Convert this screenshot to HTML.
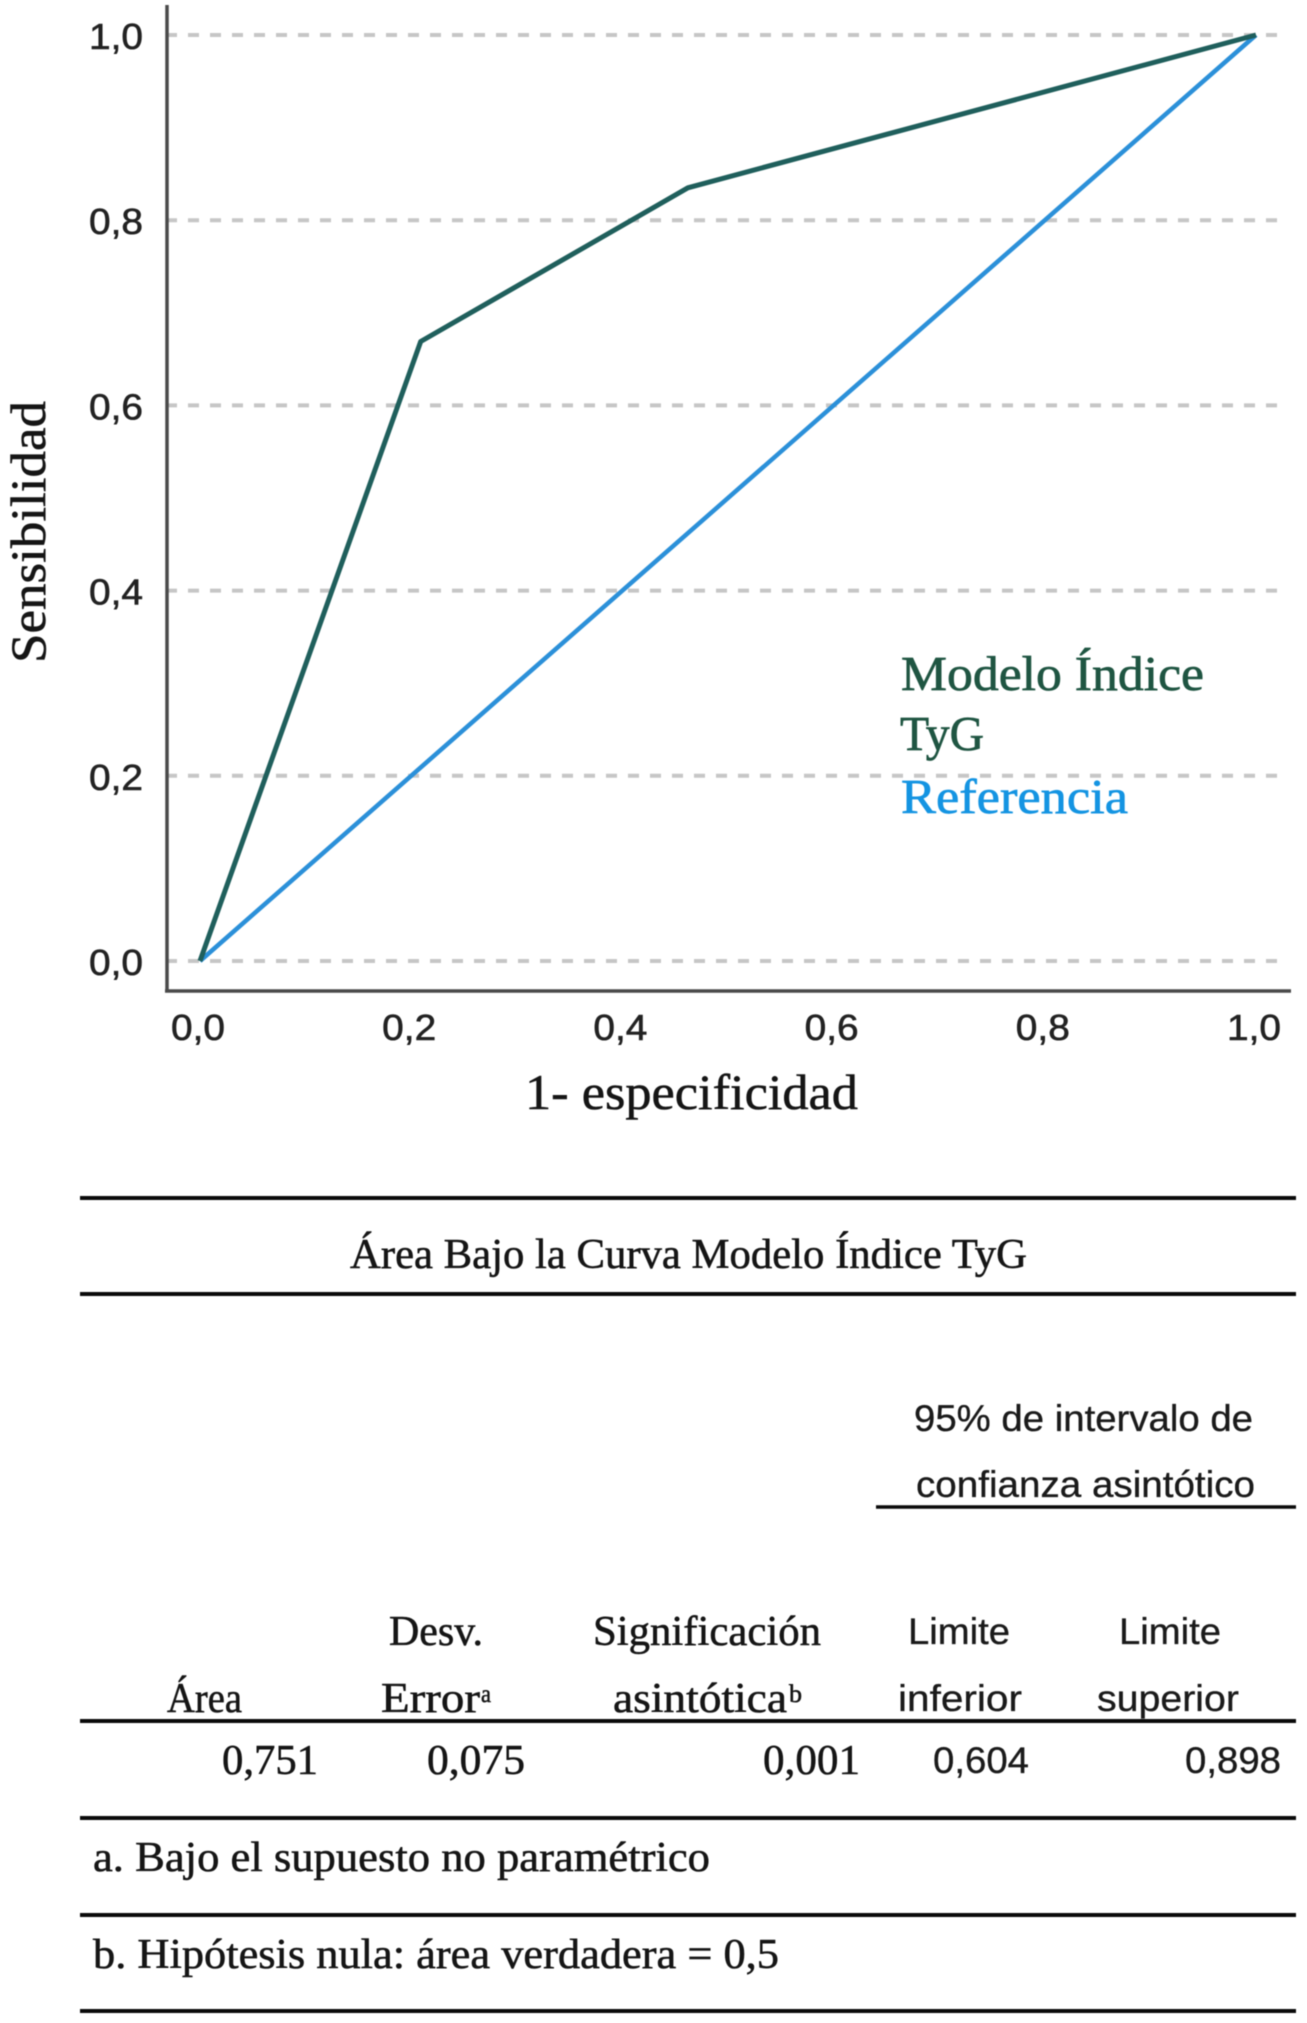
<!DOCTYPE html>
<html lang="es">
<head>
<meta charset="utf-8">
<title>Curva ROC Modelo Índice TyG</title>
<style>
html,body{margin:0;padding:0;background:#fff;width:1307px;height:2023px;overflow:hidden}
svg{display:block;filter:blur(.6px)}
.serif{font-family:"Liberation Serif",serif;fill:#151515;stroke:#151515;stroke-width:.55px}
.sans{font-family:"Liberation Sans",sans-serif;fill:#1a1a1a;stroke:#1a1a1a;stroke-width:.35px}
.tick{font-family:"Liberation Sans",sans-serif;font-size:36px;fill:#222;stroke:#222;stroke-width:.6px}
.t{font-size:42px}
.s{font-size:37px}
.ax{font-size:50px}
.rule{stroke:#0a0a0a;stroke-width:4}
.lg-model{font-family:"Liberation Serif",serif;font-size:49px;fill:#1f5542;stroke:#1f5542;stroke-width:.7px}
.lg-ref{font-family:"Liberation Serif",serif;font-size:49px;fill:#1494e2;stroke:#1494e2;stroke-width:.7px}
</style>
</head>
<body>
<svg id="root" width="1307" height="2023" viewBox="0 0 1307 2023" xmlns="http://www.w3.org/2000/svg">
  <g id="chart"></g>
  <line x1="167" y1="5" x2="167" y2="992" stroke="#4a4a4a" stroke-width="3.5"/>
  <line x1="165" y1="991" x2="1291" y2="991" stroke="#4a4a4a" stroke-width="3.5"/>
  <text class="serif ax" x="525" y="1109" textLength="333" lengthAdjust="spacingAndGlyphs">1- especificidad</text>
  <text class="serif ax" transform="translate(45,663) rotate(-90)" textLength="262" lengthAdjust="spacingAndGlyphs">Sensibilidad</text>
  <text class="lg-model" x="901" y="690" textLength="303" lengthAdjust="spacingAndGlyphs">Modelo Índice</text>
  <text class="lg-model" x="900" y="750" textLength="84" lengthAdjust="spacingAndGlyphs">TyG</text>
  <text class="lg-ref" x="901" y="813" textLength="227" lengthAdjust="spacingAndGlyphs">Referencia</text>

  <g>
    <line class="rule" x1="80" y1="1198" x2="1296" y2="1198"/>
    <line class="rule" x1="80" y1="1294" x2="1296" y2="1294"/>
    <line class="rule" style="stroke-width:3.5" x1="876" y1="1507" x2="1296" y2="1507"/>
    <line class="rule" x1="80" y1="1721" x2="1296" y2="1721"/>
    <line class="rule" x1="80" y1="1818" x2="1296" y2="1818"/>
    <line class="rule" x1="80" y1="1915" x2="1296" y2="1915"/>
    <line class="rule" x1="80" y1="2011" x2="1296" y2="2011"/>

    <text class="serif t" x="350" y="1268" textLength="677" lengthAdjust="spacingAndGlyphs">Área Bajo la Curva Modelo Índice TyG</text>
    <text class="sans s" x="914" y="1431" textLength="339" lengthAdjust="spacingAndGlyphs">95% de intervalo de</text>
    <text class="sans s" x="916" y="1497" textLength="339" lengthAdjust="spacingAndGlyphs">confianza asintótico</text>

    <text class="serif t" x="389" y="1645" textLength="94" lengthAdjust="spacingAndGlyphs">Desv.</text>
    <text class="serif t" x="593" y="1645" textLength="228" lengthAdjust="spacingAndGlyphs">Significación</text>
    <text class="sans s" x="908" y="1644" textLength="102" lengthAdjust="spacingAndGlyphs">Limite</text>
    <text class="sans s" x="1119" y="1644" textLength="102" lengthAdjust="spacingAndGlyphs">Limite</text>

    <text class="serif t" x="167" y="1712" textLength="75" lengthAdjust="spacingAndGlyphs">Área</text>
    <text class="serif t" x="381" y="1712" textLength="99" lengthAdjust="spacingAndGlyphs">Error</text>
    <text class="serif" font-size="25" x="481" y="1702" textLength="10" lengthAdjust="spacingAndGlyphs">a</text>
    <text class="serif t" x="613" y="1712" textLength="174" lengthAdjust="spacingAndGlyphs">asintótica</text>
    <text class="serif" font-size="25" x="789" y="1702" textLength="13" lengthAdjust="spacingAndGlyphs">b</text>
    <text class="sans s" x="898" y="1711" textLength="124" lengthAdjust="spacingAndGlyphs">inferior</text>
    <text class="sans s" x="1097" y="1711" textLength="142" lengthAdjust="spacingAndGlyphs">superior</text>

    <text class="serif t" x="222" y="1774" textLength="96" lengthAdjust="spacingAndGlyphs">0,751</text>
    <text class="serif t" x="427" y="1774" textLength="98" lengthAdjust="spacingAndGlyphs">0,075</text>
    <text class="serif t" x="763" y="1774" textLength="97" lengthAdjust="spacingAndGlyphs">0,001</text>
    <text class="sans s" x="933" y="1773" textLength="96" lengthAdjust="spacingAndGlyphs">0,604</text>
    <text class="sans s" x="1185" y="1773" textLength="96" lengthAdjust="spacingAndGlyphs">0,898</text>

    <text class="serif t" x="93" y="1871" textLength="617" lengthAdjust="spacingAndGlyphs">a. Bajo el supuesto no paramétrico</text>
    <text class="serif t" x="93" y="1968" textLength="686" lengthAdjust="spacingAndGlyphs">b. Hipótesis nula: área verdadera = 0,5</text>
  </g>
</svg>
<script>
const xTickValues = [0, 0.2, 0.4, 0.6, 0.8, 1];
const yTickValues = [0, 0.2, 0.4, 0.6, 0.8, 1];
const xTickLabels = ['0,0', '0,2', '0,4', '0,6', '0,8', '1,0'];
const yTickLabels = ['0,0', '0,2', '0,4', '0,6', '0,8', '1,0'];
const modelFpr = [0, 0.209, 0.462, 1];
const modelTpr = [0, 0.669, 0.835, 1];
const referenceFpr = [0, 1];
const referenceTpr = [0, 1];

const NS = 'http://www.w3.org/2000/svg';
const chart = document.getElementById('chart');
function xScale(v) { return 200 + v * (1256 - 200); }
function yScale(v) { return 961 - v * (961 - 35); }
function svgEl(tag, attrs) {
  const el = document.createElementNS(NS, tag);
  for (const k in attrs) el.setAttribute(k, attrs[k]);
  return el;
}
yTickValues.forEach(function (v, i) {
  const grid = svgEl('line', { x1: 166, x2: 1284, y1: yScale(v), y2: yScale(v), stroke: '#c6c6c6', 'stroke-width': 4, 'stroke-dasharray': '11 11' });
  
  
  chart.appendChild(grid);
  const label = svgEl('text', { x: 143, y: yScale(v) + 14, 'text-anchor': 'end', class: 'tick', textLength: 54, lengthAdjust: 'spacingAndGlyphs' });
  
  
  label.textContent = yTickLabels[i];
  chart.appendChild(label);
});
xTickValues.forEach(function (v, i) {
  const label = svgEl('text', { x: xScale(v) - 2, y: 1040, 'text-anchor': 'middle', class: 'tick', textLength: 54, lengthAdjust: 'spacingAndGlyphs' });
  
  
  label.textContent = xTickLabels[i];
  chart.appendChild(label);
});
function linePoints(xs, ys) {
  return xs.map(function (x, i) { return xScale(x) + ',' + yScale(ys[i]); }).join(' ');
}
const referenceLine = svgEl('polyline', { points: linePoints(referenceFpr, referenceTpr), fill: 'none', stroke: '#2b90d9', 'stroke-width': 4.5, 'stroke-linejoin': 'round' });


chart.appendChild(referenceLine);
const modelLine = svgEl('polyline', { points: linePoints(modelFpr, modelTpr), fill: 'none', stroke: '#1f5f5c', 'stroke-width': 5, 'stroke-linejoin': 'round' });


chart.appendChild(modelLine);
</script>
</body>
</html>
